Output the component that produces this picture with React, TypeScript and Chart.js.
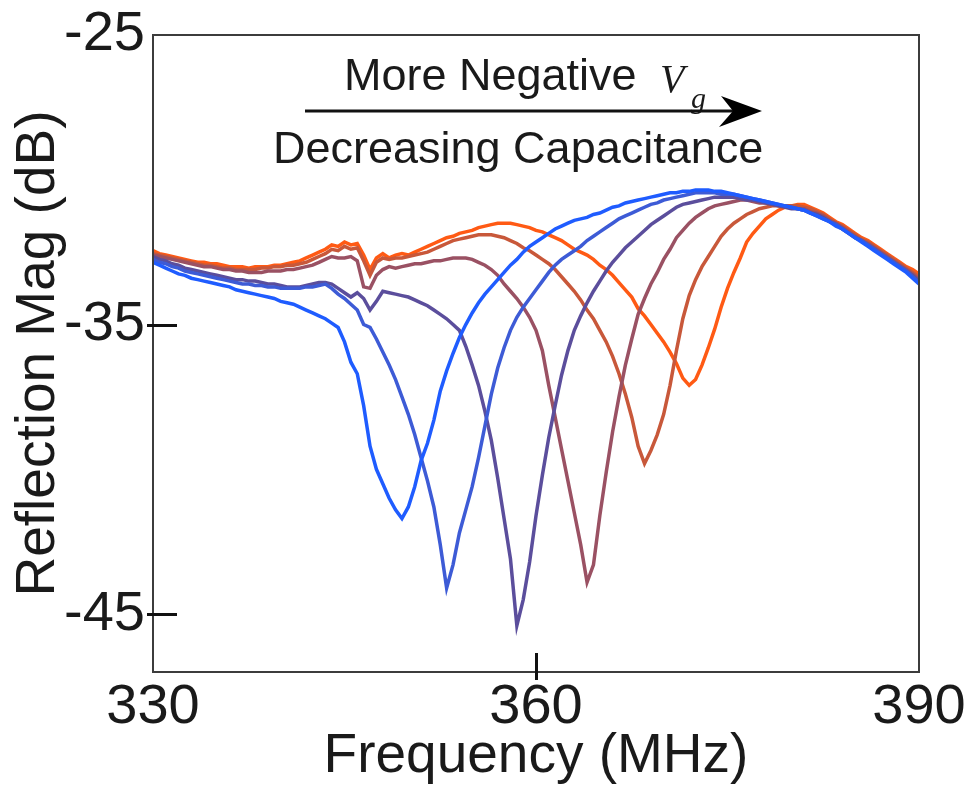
import React, { useEffect, useRef } from 'react';
import { Chart, registerables } from 'chart.js';

Chart.register(...registerables);

// Frequency grid (MHz)
const freqMHz = [
  330, 330.5, 331, 331.5, 332, 332.5, 333, 333.5, 334, 334.5,
  335, 335.5, 336, 336.5, 337, 337.5, 338, 338.5, 339, 339.5,
  340, 340.5, 341, 341.5, 342, 342.5, 343, 343.5, 344, 344.5,
  345, 345.5, 346, 346.5, 347, 347.5, 348, 348.5, 349, 349.5,
  350, 350.5, 351, 351.5, 352, 352.5, 353, 353.5, 354, 354.5,
  355, 355.5, 356, 356.5, 357, 357.5, 358, 358.5, 359, 359.5,
  360, 360.5, 361, 361.5, 362, 362.5, 363, 363.5, 364, 364.5,
  365, 365.5, 366, 366.5, 367, 367.5, 368, 368.5, 369, 369.5,
  370, 370.5, 371, 371.5, 372, 372.5, 373, 373.5, 374, 374.5,
  375, 375.5, 376, 376.5, 377, 377.5, 378, 378.5, 379, 379.5,
  380, 380.5, 381, 381.5, 382, 382.5, 383, 383.5, 384, 384.5,
  385, 385.5, 386, 386.5, 387, 387.5, 388, 388.5, 389, 389.5,
  390,
];

// Reflection magnitude (dB), from least negative Vg (blue) to most negative Vg (orange)
const trace1 = [
  -32.85, -32.95, -33.05, -33.15, -33.25, -33.3, -33.4, -33.45, -33.5, -33.55,
  -33.6, -33.65, -33.7, -33.8, -33.85, -33.9, -33.95, -34.0, -34.05, -34.1,
  -34.2, -34.25, -34.3, -34.4, -34.5, -34.6, -34.7, -34.8, -34.95, -35.1,
  -35.6, -36.3, -36.7, -37.8, -39.2, -40.0, -40.5, -41.0, -41.4, -41.7,
  -41.3, -40.6, -39.7, -39.1, -38.3, -37.3, -36.6, -36.0, -35.45, -35.0,
  -34.6, -34.25, -33.95, -33.7, -33.45, -33.2, -32.95, -32.75, -32.5, -32.3,
  -32.15, -32.0, -31.85, -31.7, -31.6, -31.5, -31.4, -31.35, -31.3, -31.2,
  -31.15, -31.05, -30.95, -30.9, -30.8, -30.75, -30.7, -30.65, -30.6, -30.55,
  -30.5, -30.45, -30.45, -30.4, -30.4, -30.35, -30.35, -30.35, -30.4, -30.4,
  -30.45, -30.5, -30.55, -30.6, -30.65, -30.7, -30.75, -30.8, -30.85, -30.9,
  -30.95, -31.0, -31.05, -31.15, -31.25, -31.35, -31.45, -31.6, -31.7, -31.85,
  -32.0, -32.15, -32.3, -32.45, -32.6, -32.75, -32.9, -33.05, -33.2, -33.4,
  -33.6,
];
const trace2 = [
  -32.75, -32.85, -32.9, -33.0, -33.05, -33.15, -33.2, -33.25, -33.3, -33.35,
  -33.4, -33.45, -33.5, -33.55, -33.6, -33.6, -33.65, -33.65, -33.7, -33.7,
  -33.75, -33.75, -33.75, -33.75, -33.7, -33.7, -33.65, -33.6, -33.75, -33.95,
  -34.1, -34.3, -34.5, -35.0, -35.1, -35.5, -35.95, -36.4, -36.9, -37.5,
  -38.1, -38.8, -39.6, -40.4, -41.3, -42.6, -44.1, -43.3, -42.2, -41.4,
  -40.6, -39.6, -38.5, -37.4, -36.5, -35.8, -35.2, -34.75, -34.4, -34.1,
  -33.8, -33.5, -33.2, -32.95, -32.75, -32.6, -32.45, -32.3, -32.1, -31.95,
  -31.8, -31.65, -31.5, -31.35, -31.25, -31.15, -31.05, -30.95, -30.85, -30.8,
  -30.7, -30.65, -30.6, -30.55, -30.5, -30.45, -30.45, -30.45, -30.45, -30.5,
  -30.5, -30.5, -30.55, -30.6, -30.65, -30.7, -30.75, -30.8, -30.85, -30.9,
  -30.95, -31.0, -31.05, -31.15, -31.25, -31.35, -31.45, -31.55, -31.7, -31.85,
  -32.0, -32.1, -32.25, -32.4, -32.55, -32.7, -32.85, -33.0, -33.15, -33.35,
  -33.55,
];
const trace3 = [
  -32.65, -32.75, -32.8, -32.9, -32.95, -33.05, -33.1, -33.15, -33.2, -33.25,
  -33.3, -33.35, -33.4, -33.45, -33.45, -33.5, -33.5, -33.55, -33.6, -33.6,
  -33.65, -33.7, -33.7, -33.7, -33.65, -33.6, -33.55, -33.55, -33.6, -33.75,
  -33.9, -34.05, -33.9, -34.1, -34.5, -34.2, -33.85, -33.9, -33.95, -34.0,
  -34.05, -34.15, -34.25, -34.35, -34.5, -34.65, -34.8, -35.0, -35.2, -35.75,
  -36.4, -37.1, -38.0, -39.0, -40.3, -41.7, -43.1, -45.4, -44.5, -43.2,
  -41.6, -40.2, -38.9, -37.8, -36.75, -35.9, -35.2, -34.7, -34.25, -33.85,
  -33.5, -33.15, -32.85, -32.6, -32.35, -32.15, -31.95, -31.75, -31.55, -31.4,
  -31.25, -31.1, -30.95, -30.85, -30.8, -30.75, -30.7, -30.65, -30.6, -30.6,
  -30.6, -30.6, -30.65, -30.7, -30.7, -30.75, -30.8, -30.85, -30.9, -30.95,
  -31.0, -31.0, -31.05, -31.15, -31.2, -31.3, -31.45, -31.55, -31.7, -31.85,
  -32.0, -32.1, -32.25, -32.4, -32.55, -32.7, -32.85, -33.0, -33.15, -33.3,
  -33.5,
];
const trace4 = [
  -32.6, -32.65, -32.7, -32.75, -32.8, -32.85, -32.9, -32.95, -33.0, -33.0,
  -33.05, -33.1, -33.1, -33.15, -33.15, -33.2, -33.2, -33.2, -33.15, -33.15,
  -33.15, -33.1, -33.1, -33.05, -33.0, -32.95, -32.85, -32.75, -32.65, -32.7,
  -32.7, -32.65, -32.8, -33.7, -33.75, -33.3, -33.1, -33.0, -33.05, -33.0,
  -32.95, -32.9, -32.9, -32.85, -32.8, -32.8, -32.75, -32.7, -32.7, -32.7,
  -32.75, -32.85, -32.95, -33.1, -33.3, -33.6, -33.85, -34.1, -34.4, -34.75,
  -35.2, -35.9, -37.1, -38.2, -39.3, -40.4, -41.5, -42.6, -43.9, -43.3,
  -41.6, -40.1, -38.7, -37.5, -36.4, -35.5, -34.65, -34.1, -33.6, -33.2,
  -32.75, -32.4, -32.0, -31.75, -31.5, -31.3, -31.15, -31.0, -30.9, -30.85,
  -30.8, -30.75, -30.7, -30.7, -30.75, -30.8, -30.8, -30.85, -30.9, -30.9,
  -30.95, -31.0, -31.0, -31.1, -31.15, -31.25, -31.4, -31.5, -31.65, -31.8,
  -31.95, -32.1, -32.2, -32.35, -32.5, -32.65, -32.8, -32.95, -33.1, -33.25,
  -33.45,
];
const trace5 = [
  -32.55, -32.6, -32.65, -32.7, -32.75, -32.8, -32.85, -32.9, -32.95, -32.95,
  -33.0, -33.05, -33.05, -33.1, -33.1, -33.1, -33.1, -33.05, -33.05, -33.0,
  -33.0, -32.95, -32.95, -32.9, -32.85, -32.75, -32.65, -32.55, -32.4, -32.45,
  -32.3, -32.4, -32.35, -32.8, -33.3, -32.85, -32.7, -32.75, -32.7, -32.7,
  -32.65, -32.6, -32.55, -32.5, -32.4, -32.3, -32.2, -32.1, -32.05, -32.0,
  -31.95, -31.9, -31.9, -31.9, -31.95, -32.0, -32.1, -32.2, -32.35, -32.45,
  -32.6, -32.75, -32.9, -33.1, -33.35, -33.6, -33.85, -34.15, -34.5, -34.8,
  -35.2, -35.6, -36.1, -36.7, -37.4, -38.2, -39.2, -39.8, -39.35, -38.8,
  -38.1, -37.1, -35.9, -34.8, -34.0, -33.45, -33.0, -32.65, -32.3, -31.95,
  -31.7, -31.5, -31.35, -31.2, -31.1, -31.0, -30.95, -30.9, -30.9, -30.9,
  -30.9, -30.9, -30.95, -31.0, -31.1, -31.2, -31.35, -31.5, -31.6, -31.75,
  -31.9, -32.05, -32.15, -32.3, -32.45, -32.6, -32.75, -32.9, -33.05, -33.2,
  -33.35,
];
const trace6 = [
  -32.45, -32.55, -32.6, -32.65, -32.7, -32.75, -32.8, -32.85, -32.85, -32.9,
  -32.9, -32.95, -33.0, -33.0, -33.0, -33.05, -33.0, -33.0, -33.0, -32.95,
  -32.95, -32.9, -32.85, -32.8, -32.7, -32.6, -32.5, -32.4, -32.25, -32.3,
  -32.15, -32.25, -32.2, -32.6, -33.1, -32.7, -32.55, -32.7, -32.6, -32.55,
  -32.6, -32.5, -32.4, -32.3, -32.2, -32.1, -32.0, -31.95, -31.85, -31.8,
  -31.75, -31.65, -31.6, -31.55, -31.5, -31.5, -31.5, -31.55, -31.6, -31.65,
  -31.75, -31.8, -31.9, -32.0, -32.1, -32.25, -32.4, -32.5, -32.6, -32.75,
  -32.95, -33.1, -33.3, -33.55, -33.8, -34.05, -34.45, -34.7, -35.0, -35.3,
  -35.6, -35.95, -36.35, -36.85, -37.1, -36.9, -36.4, -35.8, -35.15, -34.4,
  -33.75, -33.2, -32.7, -32.15, -31.85, -31.6, -31.35, -31.2, -31.05, -30.95,
  -30.9, -30.85, -30.85, -30.95, -31.05, -31.15, -31.3, -31.45, -31.55, -31.7,
  -31.85, -32.0, -32.1, -32.25, -32.4, -32.55, -32.7, -32.85, -33.0, -33.1,
  -33.25,
];

const traces = [trace1, trace2, trace3, trace4, trace5, trace6];
const traceColors = ['#1f5cff', '#3d5bd6', '#5b4e9c', '#9a5163', '#c8583a', '#ff5a14'];

const xTicks = [330, 360, 390];
const yTicks = [-45, -35, -25];
const xMin = 330;
const xMax = 390;
const yMin = -47;
const yMax = -25;

const xTitle = 'Frequency (MHz)';
const yTitle = 'Reflection Mag (dB)';
const noteTop = 'More Negative';
const noteBottom = 'Decreasing Capacitance';

const SANS = '"Liberation Sans", Arial, Helvetica, sans-serif';
const SERIF = '"Liberation Serif", "Times New Roman", serif';
const INK = '#1a1a1a';

const framePlugin = {
  id: 'frameTicksNotes',
  afterDraw(chart: any) {
    const { ctx, chartArea: a, scales } = chart;
    ctx.save();
    // frame
    ctx.strokeStyle = '#3c3c3c';
    ctx.lineWidth = 2;
    ctx.strokeRect(a.left, a.top, a.right - a.left, a.bottom - a.top);
    // tick marks crossing the axes
    ctx.strokeStyle = '#111';
    ctx.lineWidth = 3;
    yTicks.forEach((v) => {
      if (v <= yMin || v >= yMax) return;
      const y = Math.round(scales.y.getPixelForValue(v)) + 0.5;
      ctx.beginPath();
      ctx.moveTo(a.left - 6, y);
      ctx.lineTo(a.left + 24, y);
      ctx.stroke();
    });
    xTicks.forEach((v) => {
      if (v <= xMin || v >= xMax) return;
      const x = Math.round(scales.x.getPixelForValue(v)) + 0.5;
      ctx.beginPath();
      ctx.moveTo(x, a.bottom - 19);
      ctx.lineTo(x, a.bottom + 8);
      ctx.stroke();
    });
    // annotation
    ctx.fillStyle = INK;
    ctx.textBaseline = 'alphabetic';
    ctx.textAlign = 'left';
    ctx.font = `45px ${SANS}`;
    ctx.fillText(noteTop, 344, 90);
    ctx.font = `italic 40px ${SERIF}`;
    ctx.fillText('V', 660, 92);
    ctx.font = `italic 30px ${SERIF}`;
    ctx.fillText('g', 691, 108);
    ctx.font = `45px ${SANS}`;
    ctx.fillText(noteBottom, 273, 163);
    // arrow
    ctx.strokeStyle = '#111';
    ctx.lineWidth = 3;
    ctx.beginPath();
    ctx.moveTo(305, 111);
    ctx.lineTo(735, 111);
    ctx.stroke();
    ctx.fillStyle = '#000';
    ctx.beginPath();
    ctx.moveTo(762, 111);
    ctx.lineTo(721, 96);
    ctx.lineTo(733, 111);
    ctx.lineTo(719, 127);
    ctx.closePath();
    ctx.fill();
    ctx.restore();
  },
};

export default function App() {
  const canvasRef = useRef<HTMLCanvasElement | null>(null);

  useEffect(() => {
    const canvas = canvasRef.current;
    if (!canvas) return;
    const chart = new Chart(canvas, {
      type: 'line',
      data: {
        datasets: traces.map((t, i) => ({
          label: `trace ${i + 1}`,
          data: freqMHz.map((f, j) => ({ x: f, y: t[j] })),
          borderColor: traceColors[i],
          backgroundColor: traceColors[i],
          borderWidth: 3.5,
          pointRadius: 0,
          fill: false,
          tension: 0,
        })),
      },
      options: {
        responsive: false,
        animation: false,
        devicePixelRatio: 1,
        layout: { padding: { top: 35, right: 52, left: 0, bottom: 0 } },
        plugins: {
          legend: { display: false },
          tooltip: { enabled: false },
          title: { display: false },
        },
        scales: {
          x: {
            type: 'linear',
            min: xMin,
            max: xMax,
            afterBuildTicks: (axis: any) => {
              axis.ticks = xTicks.map((v) => ({ value: v }));
            },
            afterFit: (axis: any) => {
              axis.height = 125;
              axis.paddingLeft = 0;
              axis.paddingRight = 0;
            },
            grid: { display: false, drawTicks: false },
            border: { display: false },
            ticks: {
              autoSkip: false,
              maxRotation: 0,
              padding: 2,
              color: INK,
              font: { family: SANS, size: 56 },
            },
            title: {
              display: true,
              text: xTitle,
              color: INK,
              font: { family: SANS, size: 55 },
              padding: { top: 0, bottom: 7 },
            },
          },
          y: {
            type: 'linear',
            min: yMin,
            max: yMax,
            afterBuildTicks: (axis: any) => {
              axis.ticks = yTicks.map((v) => ({ value: v }));
            },
            afterFit: (axis: any) => {
              axis.width = 153;
              axis.paddingTop = 0;
              axis.paddingBottom = 0;
            },
            grid: { display: false, drawTicks: false },
            border: { display: false },
            ticks: {
              autoSkip: false,
              padding: 8,
              color: INK,
              font: { family: SANS, size: 56 },
            },
            title: {
              display: true,
              text: yTitle,
              color: INK,
              font: { family: SANS, size: 55 },
              padding: { top: 6, bottom: 0 },
            },
          },
        },
      },
      plugins: [framePlugin],
    });
    return () => chart.destroy();
  }, []);

  return (
    <div style={{ position: 'fixed', left: 0, top: 0, width: 971, height: 797, background: '#fff' }}>
      <canvas ref={canvasRef} width={971} height={797} style={{ display: 'block', width: 971, height: 797 }} />
    </div>
  );
}
